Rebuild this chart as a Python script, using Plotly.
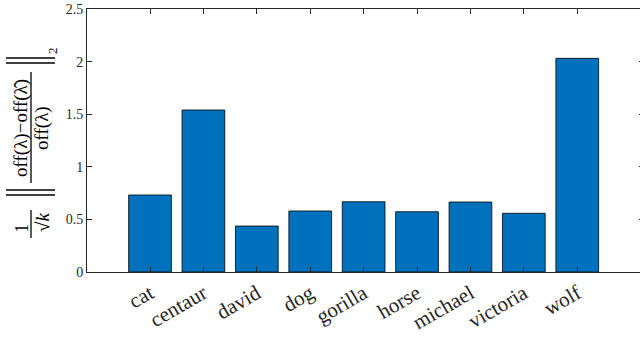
import plotly.graph_objects as go

categories = ["cat", "centaur", "david", "dog", "gorilla", "horse", "michael", "victoria", "wolf"]
values = [0.732, 1.54, 0.437, 0.58, 0.668, 0.573, 0.665, 0.558, 2.031]
y_ticks = [0, 0.5, 1, 1.5, 2, 2.5]
y_ticktext = ["0", "0.5", "1", "1.5", "2", "2.5"]

W, H = 646, 341
L, R, T, B = 87, 644, 9, 272  # plot area in pixels (right edge beyond the window)

def px(x):
    return (x - L) / (R - L)

def py(y):
    return (B - y) / (B - T)

FONT = "Liberation Serif"
AX = "rgb(38,38,38)"

fig = go.Figure()
fig.add_trace(go.Bar(
    x=categories, y=values, width=0.8,
    marker=dict(color="rgb(0,114,189)", line=dict(color="black", width=0.8)),
))

fig.update_layout(
    width=W, height=H,
    margin=dict(l=L, r=W - R, t=T, b=H - B, pad=0),
    paper_bgcolor="white", plot_bgcolor="white",
    showlegend=False,
    font=dict(family=FONT, size=13, color=AX),
)
fig.update_xaxes(
    range=[-1.18, 9.25], showgrid=False, showline=True, linecolor=AX, linewidth=1,
    mirror="ticks", ticks="inside", ticklen=5, tickcolor=AX, tickangle=-30,
    tickfont=dict(family=FONT, size=21, color=AX), zeroline=False, automargin=False,
)
fig.update_yaxes(
    range=[0, 2.5], tickvals=y_ticks, ticktext=y_ticktext, showgrid=False,
    showline=True, linecolor=AX, linewidth=1, mirror="ticks", ticks="inside",
    ticklen=5, tickcolor=AX, tickfont=dict(family=FONT, size=14, color=AX),
    zeroline=False, automargin=False, ticklabeloverflow="allow",
)

def ann(text, x, y, size):
    fig.add_annotation(text=text, x=px(x), y=py(y), xref="paper", yref="paper",
                       showarrow=False, textangle=-90, xanchor="center", yanchor="middle",
                       font=dict(family=FONT, size=size, color="black"))

def line(x0, y0, x1, y1, w=1.3):
    fig.add_shape(type="line", xref="paper", yref="paper",
                  x0=px(x0), y0=py(y0), x1=px(x1), y1=py(y1),
                  line=dict(color="black", width=w))

# 1/sqrt(k)
ann("1", 21, 228, 19)
line(31, 210, 31, 238)
ann("√<i>k</i>", 42, 223, 19)
# left norm bars
line(6, 190, 55, 190, 1.4)
line(6, 195, 55, 195, 1.4)
# fraction
ann("off(λ)−off(λ̂)", 21, 128, 19)
line(31, 72, 31, 183)
ann("off(λ)", 42, 128, 19)
# right norm bars
line(6, 58, 55, 58, 1.4)
line(6, 63, 55, 63, 1.4)
ann("2", 52, 51, 13)

fig.write_html("out.html", post_script="document.body.style.margin='0';",
               config={"displayModeBar": False})
